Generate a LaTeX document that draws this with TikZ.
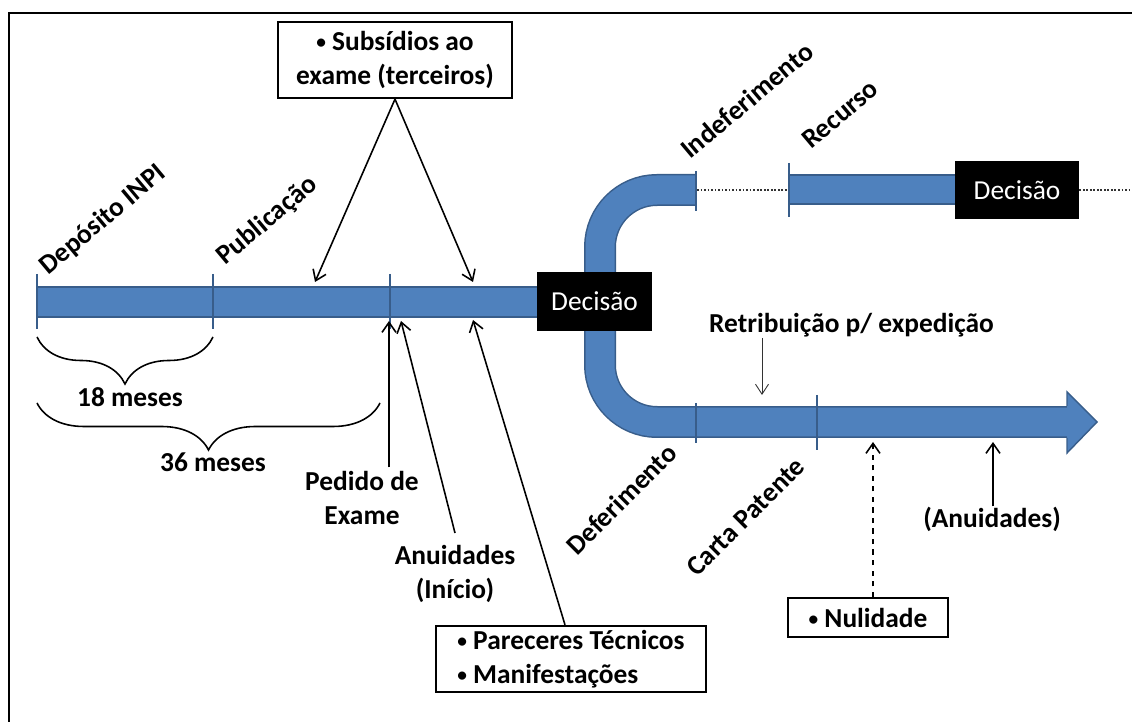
\documentclass[tikz,border=0pt]{standalone}
\usepackage{fontspec}
\setmainfont{Carlito}
\usetikzlibrary{positioning,calc,decorations.pathreplacing,arrows.meta}

\definecolor{barfill}{RGB}{79,129,189}
\definecolor{barline}{RGB}{56,93,138}
\newcommand{\bulletmark}{\raisebox{0.15ex}{\fontsize{11}{11}\selectfont\textbullet}}

\begin{document}
\begin{tikzpicture}[
        x=0.02cm, y=-0.02cm,
        font=\fontsize{15.6}{19.3}\selectfont\bfseries,
        bar/.style={fill=barfill, draw=barline, line width=0.8pt},
        tick/.style={draw=barline, line width=1.4pt},
        pipeout/.style={draw=barline, line width=0.64cm},
        pipein/.style={draw=barfill, line width=0.58cm},
        decbox/.style={fill=black, text=white, font=\fontsize{15.6}{19.3}\selectfont, minimum height=1.17cm, inner sep=0pt},
        infobox/.style={draw, line width=1.3pt, inner sep=0pt},
        slantup/.style={rotate=40, anchor=base west, inner sep=0pt},
        slantdn/.style={rotate=45, anchor=base west, inner sep=0pt},
        lbl/.style={align=center, inner sep=0pt},
        ptr/.style={-{Straight Barb[length=2mm,width=2.8mm]}, line width=0.9pt},
        thinptr/.style={-{Straight Barb[length=2mm,width=2.6mm]}, line width=0.5pt, black!80},
        dots/.style={dash pattern=on 1pt off 1pt, line width=0.7pt, black!80},
        brc/.style={decorate, decoration={brace, amplitude=0.94cm, aspect=0.5}, line width=0.9pt}
    ]
    \useasboundingbox (0,0) rectangle (1132,722);

% --- Frame ---
    \draw[line width=1pt] (9,722) -- (9,13) -- (1132,13);

% --- Pipe (Indeferimento / Deferimento) ---
    \draw[pipeout] (696,190) -- (657,190) arc[start angle=-90, end angle=-180, radius=57]
        -- (600,365) arc[start angle=180, end angle=90, radius=57] -- (1068,422);
    \draw[pipein] (696,190) -- (657,190) arc[start angle=-90, end angle=-180, radius=57]
        -- (600,365) arc[start angle=180, end angle=90, radius=57] -- (1068,422);
    \filldraw[bar] (1067,406) -- (1067,392) -- (1097,422) -- (1067,453) -- (1067,438);

% --- Main bar ---
    \filldraw[bar] (37,287) rectangle (550,317);
    \foreach \x in {37,213,390}
        \draw[tick] (\x,274) -- (\x,329);
    \draw[tick] (696,171) -- (696,211);
    \draw[tick] (696,403) -- (696,443);
    \draw[tick] (817,395) -- (817,450);

% --- Recurso bar ---
    \filldraw[bar] (789,175) rectangle (960,204);
    \draw[tick] (789,163) -- (789,217);

% --- Decision boxes ---
    \node[decbox, minimum width=2.3cm] (dec1) at (594.5,301.5) {Decisão};
    \node[decbox, minimum width=2.48cm] (dec2) at (1017,190) {Decisão};

    \draw[dots] (697,190) -- (788,190);
    \draw[dots] (dec2.east) -- (1132,190);

% --- Milestones ---
    \node[slantup] (dep) at (48,276) {Depósito INPI};
    \node[slantup] (pub) at (225,266) {Publicação};
    \node[slantup] (indef) at (690,160) {Indeferimento};
    \node[slantup] (rec) at (811,150) {Recurso};
    \node[slantdn] (def) at (577,557) {Deferimento};
    \node[slantdn] (carta) at (697,578) {Carta Patente};

% --- Braces ---
    \draw[brc] (213,337) -- (37,337);
    \draw[brc] (380,403) -- (37,403);
    \node[lbl, anchor=base] (m18) at (130,407) {18 meses};
    \node[lbl, anchor=base] (m36) at (213,472) {36 meses};

% --- Boxes and labels ---
    \node[infobox, align=center, minimum width=4.68cm, minimum height=1.52cm] (subs) at (395,60)
        {\bulletmark\ Subsídios ao\\exame (terceiros)};
    \node[infobox, align=left, minimum width=5.4cm, minimum height=1.32cm] (parec) at (571,659)
        {\bulletmark\ Pareceres Técnicos\\\bulletmark\ Manifestações};
    \node[infobox, minimum width=3.2cm, minimum height=0.78cm] (nulid) at (868,617.5)
        {\bulletmark\ Nulidade};
    \node[lbl] (pedido) at (362,498) {Pedido de\\Exame};
    \node[lbl] (anuid) at (455,574) {Anuidades\\(Início)};
    \node[lbl, anchor=base] (retrib) at (851.5,333) {Retribuição p/ expedição};
    \node[lbl, anchor=base] (anuid2) at (992,527) {(Anuidades)};

% --- Pointers ---
    \coordinate (sa) at (315,282);
    \coordinate (sb) at (473,282);
    \coordinate (pa) at (389,321);
    \coordinate (aa) at (401,321);
    \coordinate (pp) at (473,320);
    \coordinate (ra) at (762,395);
    \coordinate (na) at (873,442);
    \coordinate (an) at (993,442);

    \draw[ptr] (subs.south) -- (sa);
    \draw[ptr] (subs.south) -- (sb);
    \draw[ptr] ([yshift=2pt]pedido.north -| pa) -- (pa);
    \draw[ptr] ($(anuid.north)+(0,-12)$) -- (aa);
    \draw[ptr] ($(parec.north)+(-6,0)$) -- (pp);
    \draw[thinptr] (retrib.south -| ra) -- (ra);
    \draw[ptr, dashed] (nulid.north -| na) -- (na);
    \draw[ptr] (anuid2.north -| an) -- (an);
\end{tikzpicture}
\end{document}
